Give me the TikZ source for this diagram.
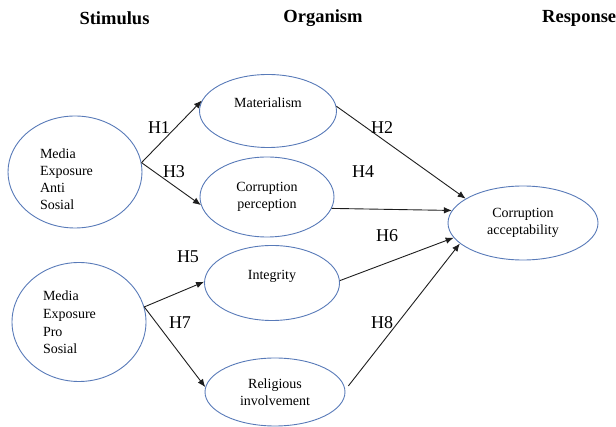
\documentclass[tikz,border=0pt]{standalone}
\usepackage{fontspec}
\setmainfont{Liberation Serif}
\usetikzlibrary{shapes.geometric,arrows.meta}
\definecolor{ovalblue}{RGB}{88,122,184}
\definecolor{arrowgray}{RGB}{30,30,30}
\tikzset{
  var/.style={ellipse,draw=ovalblue,line width=0.9pt,inner sep=0pt,
    font=\fontsize{14}{16.5}\selectfont,align=center},
  hyp/.style={font=\fontsize{18}{20}\selectfont,inner sep=0pt},
  head/.style={font=\fontsize{18.5}{21}\selectfont\bfseries,inner sep=0pt},
  path/.style={->,draw=arrowgray,line width=0.9pt}
}
\begin{document}
\begin{tikzpicture}[>={Latex[length=8pt,width=6.5pt]},x=1pt,y=-1pt]
        \useasboundingbox (0,0) rectangle (616,427);
        \node[head] (stim) at (114.5,18) {Stimulus};
        \node[head] (org) at (323,18) {Organism};
        \node[head,anchor=west] (resp) at (542,18) {Response};
        % stimulus
        \node[var,minimum width=134,minimum height=112,text width=70,align=left] (anti) at (75,172)
            {\fontsize{14}{17}\selectfont\rule{0pt}{24pt}Media\\Exposure\\Anti\\Sosial};
        \node[var,minimum width=134,minimum height=119,text width=72,align=left] (pro) at (79,322)
            {\fontsize{14}{18}\selectfont Media\\Exposure\\Pro\\Sosial};
        % organism
        \node[var,minimum width=137,minimum height=73] (mat) at (268,111) {Materialism\\[0pt]};
        \node[var,minimum width=134,minimum height=80] (perc) at (267,197) {Corruption\\perception};
        \node[var,minimum width=135,minimum height=75] (integ) at (272,283) {Integrity\\[0pt]};
        \node[var,minimum width=140,minimum height=68] (relig) at (275,392) {Religious\\involvement};
        % response
        \node[var,minimum width=150,minimum height=74] (acc) at (523,223) {Corruption\\acceptability};
        \draw[path] (anti.8) -- (mat.171);
        \draw[path] (anti.8) -- (perc.187);
        \draw[path] (pro.13) -- (integ.179);
        \draw[path] (pro.13) -- (relig.176);
        \draw[path] (mat.4) -- (acc.157);
        \draw[path] (perc.350) -- (acc.170);
        \draw[path] (integ.2) -- (acc.192);
        \draw[path] ([xshift=4]relig.5) -- (acc.198);
        \node[hyp] (h1) at (159,128) {H1};
        \node[hyp] (h3) at (174,172) {H3};
        \node[hyp] (h5) at (188,257) {H5};
        \node[hyp] (h7) at (180,323) {H7};
        \node[hyp] (h2) at (382,128) {H2};
        \node[hyp] (h4) at (363,172) {H4};
        \node[hyp] (h6) at (387,236) {H6};
        \node[hyp] (h8) at (382,323) {H8};
    \end{tikzpicture}
\end{document}
